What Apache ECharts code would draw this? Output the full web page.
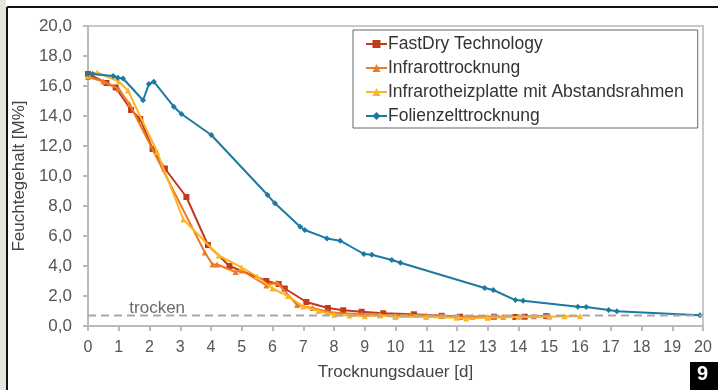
<!DOCTYPE html>
<html>
<head>
<meta charset="utf-8">
<script src="https://cdn.jsdelivr.net/npm/echarts@6/dist/echarts.min.js"></script>
<style>
  html, body { margin: 0; padding: 0; background: #fff; }
  #chart { width: 718px; height: 390px; }
</style>
</head>
<body>
<div id="chart"></div>
<script>
// [Trocknungsdauer d, Feuchtegehalt M%]
const fastDry = [
  [0, 16.8], [0.6, 16.2], [0.9, 15.9], [1.4, 14.4], [1.7, 13.8], [2.1, 11.8],
  [2.5, 10.5], [3.2, 8.6], [3.9, 5.4], [4.6, 4.0], [5.8, 3.0], [6.2, 2.8],
  [6.4, 2.5], [7.1, 1.6], [7.8, 1.2], [8.3, 1.05], [8.9, 0.95], [9.6, 0.85],
  [10.6, 0.78], [11.5, 0.68], [12.1, 0.62], [13.2, 0.62], [13.9, 0.6],
  [14.2, 0.62], [14.9, 0.66]
]
const infrarot = [
  [0, 16.6], [0.5, 16.3], [1.0, 15.8], [1.35, 14.8], [3.8, 4.9], [4.05, 4.1],
  [4.2, 4.1], [4.8, 3.6], [5.0, 3.7], [5.8, 2.7], [6.15, 2.9], [6.8, 1.4],
  [7.3, 1.2], [7.8, 0.95], [8.2, 0.85], [8.9, 0.8], [9.5, 0.75], [10.0, 0.7],
  [10.5, 0.75], [11.0, 0.7], [11.5, 0.68], [12.0, 0.6], [12.5, 0.62],
  [13.0, 0.6], [13.5, 0.62], [14.0, 0.6], [14.5, 0.65], [15.0, 0.7]
]
const heizplatte = [
  [0, 16.7], [0.3, 16.9], [1.0, 16.3], [1.3, 15.7], [2.25, 11.6], [3.1, 7.1],
  [4.25, 4.7], [5.0, 3.9], [5.5, 3.3], [6.0, 2.5], [6.5, 2.0], [7.0, 1.3],
  [7.5, 1.0], [8.0, 0.75], [8.5, 0.7], [9.0, 0.65], [9.5, 0.7], [10.0, 0.6],
  [11.0, 0.6], [12.0, 0.55], [12.3, 0.5], [13.0, 0.55], [14.0, 0.6],
  [15.0, 0.62], [15.5, 0.65], [16.0, 0.65]
]
const folienzelt = [
  [0, 16.8], [0.15, 16.8], [0.82, 16.67], [0.97, 16.55], [1.14, 16.5],
  [1.79, 15.05], [1.98, 16.13], [2.14, 16.29], [2.79, 14.62], [3.04, 14.13],
  [4.01, 12.73], [5.84, 8.73], [6.08, 8.18], [6.9, 6.62], [7.05, 6.4],
  [7.77, 5.84], [8.2, 5.69], [8.97, 4.8], [9.23, 4.75], [9.88, 4.4],
  [10.16, 4.22], [12.9, 2.53], [13.18, 2.4], [13.9, 1.73], [14.15, 1.69],
  [15.93, 1.29], [16.2, 1.27], [16.93, 1.07], [17.2, 0.98], [19.9, 0.71]
]
const trockenLine = [[0, 0.7], [20, 0.7]]
const trockenLabel = [[2.25, 1.2]]

const seriesNames = ['FastDry Technology', 'Infrarottrocknung', 'Infrarotheizplatte mit Abstandsrahmen', 'Folienzelttrocknung']
const seriesColors = ['#c23a1c', '#ef7a22', '#fbb526', '#1c7aa2']
const seriesSymbols = ['rect', 'triangle', 'triangle', 'diamond']
const seriesData = [fastDry, infrarot, heizplatte, folienzelt]

const chart = echarts.init(document.getElementById('chart'))
const font = 'Liberation Sans, Arial, sans-serif'

const lineSeries = seriesNames.map((name, i) => ({
  name,
  type: 'line',
  data: seriesData[i],
  symbol: seriesSymbols[i],
  symbolSize: 6,
  showAllSymbol: true,
  lineStyle: { color: seriesColors[i], width: 2 },
  itemStyle: { color: seriesColors[i] },
  z: 3 + i
}))

chart.setOption({
  animation: false,
  textStyle: { fontFamily: font },
  grid: {
    left: 88, right: 15, top: 26, bottom: 64,
    show: true, borderColor: '#c8c8c8', borderWidth: 2
  },
  legend: {
    data: seriesNames,
    orient: 'vertical',
    left: 353, top: 30,
    padding: [5, 14, 3, 12],
    itemGap: 6,
    itemWidth: 21, itemHeight: 10,
    borderColor: '#666', borderWidth: 1,
    backgroundColor: '#fff',
    textStyle: { fontSize: 17.5, color: '#333', fontFamily: font, padding: [0, 0, 0, -4] }
  },
  xAxis: {
    type: 'value', min: 0, max: 20, interval: 1,
    name: 'Trocknungsdauer [d]', nameLocation: 'middle', nameGap: 38,
    nameTextStyle: { fontSize: 17, color: '#444' },
    axisLine: { lineStyle: { color: '#bbb', width: 2 } },
    axisTick: { length: 5, lineStyle: { color: '#bbb', width: 2 } },
    axisLabel: { fontSize: 16, color: '#555', margin: 14, showMaxLabel: true },
    splitLine: { show: false }
  },
  yAxis: {
    type: 'value', min: 0, max: 20, interval: 2,
    name: 'Feuchtegehalt [M%]', nameLocation: 'middle', nameGap: 52,
    nameTextStyle: { fontSize: 17, color: '#444' },
    axisLine: { show: true, lineStyle: { color: '#bbb', width: 2 } },
    axisTick: { show: true, length: 5, lineStyle: { color: '#bbb', width: 2 } },
    axisLabel: {
      fontSize: 17, color: '#555', margin: 16,
      formatter: v => v.toFixed(1).replace('.', ',')
    },
    splitLine: { show: false }
  },
  series: [
    ...lineSeries,
    {
      name: 'trocken',
      type: 'line',
      data: trockenLine,
      symbol: 'none',
      lineStyle: { color: '#a8a8a8', width: 2, type: [8, 5] },
      z: 10,
      silent: true
    },
    {
      name: 'trockenLabel',
      type: 'scatter',
      data: trockenLabel,
      symbolSize: 0,
      label: {
        show: true, position: 'inside', formatter: 'trocken',
        fontSize: 17, color: '#444', fontFamily: font
      },
      z: 11,
      silent: true
    }
  ],
  graphic: [
    { type: 'rect', shape: { x: 0, y: 0, width: 6, height: 390 }, style: { fill: '#e5e5dd' } },
    { type: 'line', shape: { x1: 7, y1: 7, x2: 7, y2: 390 }, style: { stroke: '#111', lineWidth: 2 } },
    { type: 'line', shape: { x1: 7, y1: 7, x2: 718, y2: 7 }, style: { stroke: '#111', lineWidth: 2 } },
    { type: 'rect', shape: { x: 690, y: 362, width: 28, height: 28 }, style: { fill: '#000' } },
    {
      type: 'text', left: 697, top: 364,
      style: { text: '9', fill: '#fff', font: 'bold 20px Liberation Sans, Arial, sans-serif' }
    }
  ]
})
</script>
</body>
</html>
